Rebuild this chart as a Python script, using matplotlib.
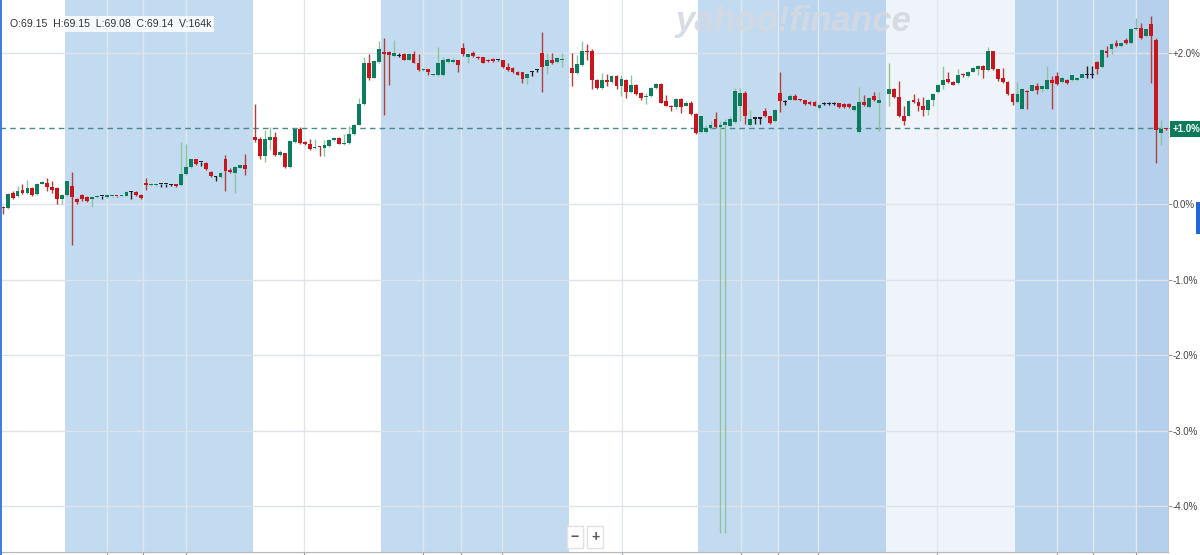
import numpy as np
import matplotlib
matplotlib.use("Agg")
import matplotlib.pyplot as plt
from matplotlib.patches import Rectangle

plt.rcParams["font.family"] = ["Liberation Sans", "DejaVu Sans"]

# candle values in % change, one per bar (None = no bar)
opens = [
    -0.04, -0.05, 0.15, 0.10, 0.18, 0.14, 0.21, 0.13, 0.27, 0.28,
    0.23, 0.21, 0.07, 0.12, 0.24, 0.06, 0.12, 0.09, 0.06, 0.09,
    0.10, 0.09, 0.10, 0.105, 0.11, 0.11, 0.16, 0.16, 0.12, 0.28,
    0.25, 0.25, 0.26, 0.26, 0.25, 0.26, 0.25, 0.39, 0.49, 0.59,
    0.55, 0.54, 0.42, 0.36, 0.36, 0.60, 0.45, 0.41, 0.48, 0.51,
    None, 0.89, 0.86, 0.63, 0.85, 0.88, 0.65, 0.67, 0.49, 0.82,
    0.99, 0.81, 0.80, 0.745, 0.76, 0.74, 0.77, 0.84, 0.87, 0.79,
    0.81, 0.92, 1.05, 1.32, 1.86, 1.67, 1.88, 2.01, 2.01, 1.96,
    1.96, 1.98, 1.91, 1.98, 1.87, 1.775, 1.78, 1.70, 1.70, 1.70,
    1.88, 1.88, 1.90, 2.06, 1.94, 2.00, 1.95, 1.94, 1.91, 1.92,
    1.90, 1.90, 1.81, 1.80, 1.75, 1.74, 1.66, 1.75, 1.77, 2.00,
    1.82, 1.91, 1.88, 1.90, None, 1.80, 1.73, 1.84, 2.03, 2.02,
    1.64, 1.53, 1.64, 1.61, 1.69, 1.56, 1.64, 1.48, 1.58, 1.47,
    1.41, 1.43, 1.53, 1.59, 1.36, 1.30, 1.28, 1.39, 1.30, 1.33,
    1.19, 0.95, 0.95, 1.00, 1.12, 1.02, 1.05, 1.03, 1.08, 1.30,
    1.47, 1.04, 1.13, 1.13, 1.23, 1.16, 1.10, 1.47, 1.35, 1.38,
    1.43, 1.375, 1.37, 1.35, 1.35, 1.27, 1.32, 1.32, 1.32, 1.33,
    1.32, 1.32, 1.24, 0.95, 1.35, 1.28, 1.43, 1.33, None, 1.45,
    1.52, 1.41, 1.16, 1.17, 1.38, 1.35, 1.29, 1.24, 1.38, 1.48,
    1.57, 1.65, 1.62, 1.60, 1.71, 1.69, 1.75, 1.79, 1.83, 1.77,
    2.02, 1.78, 1.67, 1.62, 1.46, 1.35, 1.26, 1.50, 1.50, 1.56,
    1.52, 1.52, 1.64, 1.69, 1.61, 1.64, 1.64, 1.64, 1.67, 1.70,
    1.70, 1.88, 1.81, 2.02, 2.05, 2.13, 2.09, 2.17, 2.13, 2.31,
    2.33, 2.22, 2.38, 2.17, 0.94, 1.00,
]
closes = [
    -0.05, 0.13, 0.08, 0.17, 0.14, 0.21, 0.12, 0.27, 0.29, 0.22,
    0.18, 0.07, 0.12, 0.30, 0.09, 0.02, 0.07, 0.04, 0.09, 0.11,
    0.10, 0.12, 0.105, 0.10, 0.115, 0.16, 0.16, 0.12, 0.08, 0.25,
    0.27, 0.26, 0.26, 0.26, 0.25, 0.24, 0.40, 0.49, 0.59, 0.53,
    0.55, 0.46, 0.37, 0.36, 0.41, 0.44, 0.42, 0.49, 0.51, 0.46,
    None, 0.85, 0.63, 0.86, 0.89, 0.65, 0.69, 0.49, 0.83, 0.99,
    0.81, 0.80, 0.73, 0.755, 0.75, 0.78, 0.85, 0.87, 0.80, 0.81,
    0.92, 1.05, 1.32, 1.87, 1.67, 1.89, 2.05, 1.98, 1.97, 2.00,
    1.96, 1.91, 1.99, 1.87, 1.77, 1.785, 1.74, 1.71, 1.87, 1.90,
    1.92, 1.91, 1.84, 1.98, 1.98, 1.96, 1.93, 1.87, 1.89, 1.89,
    1.90, 1.81, 1.77, 1.74, 1.71, 1.65, 1.72, 1.75, 1.77, 1.81,
    1.91, 1.86, 1.93, 1.92, None, 1.73, 1.85, 2.03, 2.01, 1.64,
    1.53, 1.64, 1.61, 1.69, 1.56, 1.65, 1.48, 1.57, 1.45, 1.40,
    1.42, 1.54, 1.59, 1.34, 1.30, 1.28, 1.39, 1.28, 1.33, 1.19,
    0.94, 1.16, 1.01, 1.05, 1.02, 1.05, 1.08, 1.13, 1.49, 1.47,
    1.16, 1.12, 1.13, 1.13, 1.16, 1.07, 1.24, 1.36, 1.35, 1.43,
    1.38, 1.37, 1.32, 1.32, 1.30, 1.31, 1.32, 1.32, 1.32, 1.28,
    1.28, 1.28, 1.29, 1.35, 1.31, 1.40, 1.37, 1.37, None, 1.52,
    1.41, 1.16, 1.10, 1.36, 1.35, 1.29, 1.24, 1.38, 1.46, 1.58,
    1.64, 1.61, 1.58, 1.71, 1.70, 1.75, 1.80, 1.83, 1.77, 2.02,
    1.78, 1.65, 1.61, 1.45, 1.35, 1.45, 1.52, 1.48, 1.57, 1.51,
    1.56, 1.64, 1.60, 1.59, 1.67, 1.60, 1.70, 1.67, 1.72, 1.70,
    1.70, 1.79, 2.04, 2.00, 2.12, 2.09, 2.13, 2.13, 2.32, 2.33,
    2.19, 2.31, 2.22, 0.98, 0.99, 0.99,
]
highs = [
    -0.03, 0.14, 0.17, 0.24, 0.26, 0.32, 0.22, 0.28, 0.30, 0.34,
    0.31, 0.22, 0.13, 0.31, 0.42, 0.08, 0.13, 0.10, 0.10, 0.12,
    0.11, 0.13, 0.11, 0.11, 0.12, 0.17, 0.17, 0.17, 0.13, 0.34,
    0.28, 0.27, 0.27, 0.27, 0.26, 0.27, 0.82, 0.80, 0.60, 0.60,
    0.56, 0.56, 0.43, 0.37, 0.42, 0.65, 0.47, 0.50, 0.52, 0.66,
    None, 1.32, 0.88, 0.98, 1.02, 0.95, 0.72, 0.68, 0.84, 1.00,
    1.02, 0.83, 0.86, 0.86, 0.77, 0.84, 0.86, 0.88, 0.89, 0.93,
    1.03, 1.06, 1.40, 1.95, 1.98, 1.90, 2.15, 2.20, 2.02, 2.17,
    2.00, 2.00, 2.00, 2.03, 1.99, 1.80, 1.79, 1.72, 2.07, 1.95,
    1.93, 1.93, 1.91, 2.13, 1.99, 2.03, 1.96, 1.95, 1.92, 1.93,
    1.91, 1.91, 1.86, 1.81, 1.76, 1.75, 1.73, 1.76, 1.79, 2.28,
    2.00, 2.00, 1.94, 2.00, None, 2.00, 1.97, 2.16, 2.12, 2.05,
    1.65, 1.73, 1.72, 1.70, 1.70, 1.70, 1.65, 1.70, 1.59, 1.48,
    1.47, 1.55, 1.60, 1.60, 1.44, 1.31, 1.40, 1.40, 1.36, 1.36,
    1.20, 1.17, 1.05, 1.10, 1.22, 1.10, 1.12, 1.17, 1.53, 1.53,
    1.49, 1.24, 1.14, 1.14, 1.27, 1.17, 1.25, 1.75, 1.38, 1.45,
    1.45, 1.39, 1.38, 1.36, 1.36, 1.32, 1.35, 1.35, 1.35, 1.34,
    1.33, 1.33, 1.30, 1.55, 1.44, 1.41, 1.48, 1.48, None, 1.87,
    1.53, 1.63, 1.30, 1.37, 1.45, 1.40, 1.42, 1.39, 1.47, 1.59,
    1.82, 1.74, 1.63, 1.79, 1.73, 1.76, 1.81, 1.84, 1.84, 2.07,
    2.03, 1.79, 1.80, 1.63, 1.47, 1.61, 1.53, 1.51, 1.58, 1.60,
    1.57, 1.82, 1.69, 1.74, 1.68, 1.65, 1.71, 1.68, 1.73, 1.82,
    1.82, 1.89, 2.05, 2.09, 2.13, 2.17, 2.14, 2.20, 2.33, 2.46,
    2.39, 2.32, 2.48, 2.20, 1.11, 1.01,
]
lows = [
    -0.13, -0.06, 0.07, 0.09, 0.13, 0.13, 0.11, 0.12, 0.26, 0.17,
    0.14, 0.00, 0.00, 0.11, -0.54, 0.00, 0.04, 0.03, -0.04, 0.08,
    0.06, 0.08, 0.09, 0.09, 0.10, 0.10, 0.07, 0.11, 0.07, 0.19,
    0.24, 0.24, 0.23, 0.23, 0.24, 0.23, 0.24, 0.38, 0.48, 0.52,
    0.50, 0.45, 0.36, 0.30, 0.35, 0.17, 0.41, 0.14, 0.47, 0.38,
    None, 0.82, 0.60, 0.55, 0.71, 0.64, 0.64, 0.48, 0.48, 0.81,
    0.79, 0.78, 0.72, 0.73, 0.63, 0.63, 0.76, 0.83, 0.79, 0.78,
    0.80, 0.91, 1.04, 1.31, 1.64, 1.66, 1.87, 1.18, 1.57, 1.95,
    1.95, 1.90, 1.90, 1.86, 1.76, 1.76, 1.70, 1.69, 1.69, 1.69,
    1.87, 1.87, 1.75, 1.96, 1.86, 1.95, 1.92, 1.86, 1.88, 1.88,
    1.89, 1.80, 1.76, 1.73, 1.70, 1.60, 1.59, 1.69, 1.75, 1.48,
    1.72, 1.85, 1.87, 1.81, None, 1.56, 1.72, 1.83, 1.91, 1.52,
    1.52, 1.52, 1.56, 1.60, 1.52, 1.43, 1.40, 1.47, 1.44, 1.37,
    1.32, 1.42, 1.52, 1.33, 1.29, 1.23, 1.26, 1.20, 1.29, 1.18,
    0.93, 0.94, 0.94, 0.99, 1.01, -4.35, -4.35, 1.02, 1.07, 1.10,
    1.06, 1.03, 1.06, 1.06, 1.15, 1.06, 1.09, 1.22, 1.31, 1.37,
    1.37, 1.36, 1.31, 1.31, 1.29, 1.26, 1.31, 1.31, 1.31, 1.27,
    1.27, 1.27, 1.23, 0.94, 1.30, 1.27, 1.36, 0.96, None, 1.30,
    1.40, 1.15, 1.05, 1.16, 1.34, 1.23, 1.17, 1.18, 1.30, 1.47,
    1.52, 1.60, 1.57, 1.59, 1.68, 1.68, 1.74, 1.70, 1.66, 1.76,
    1.77, 1.63, 1.60, 1.44, 1.31, 1.34, 1.25, 1.26, 1.49, 1.46,
    1.48, 1.51, 1.26, 1.58, 1.60, 1.59, 1.63, 1.63, 1.66, 1.67,
    1.67, 1.72, 1.80, 1.95, 1.99, 2.08, 2.08, 2.12, 2.12, 2.30,
    2.18, 2.21, 1.60, 0.54, 0.78, 0.98,
]

y_ticks = [2, 1, 0, -1, -2, -3, -4]
y_labels = ["+2.0%", "+1.0%", "0.0%", "-1.0%", "-2.0%", "-3.0%", "-4.0%"]
ref_level = 1.0
ohlc_text = "O:69.15  H:69.15  L:69.08  C:69.14  V:164k"

# session shading (bar index units) and vertical grid positions
bands = [(12.5, 50.5, "#c3dbf1"), (76.5, 114.5, "#c3dbf1"),
         (140.5, 156.6, "#c3dbf1"), (156.6, 178.5, "#bbd5ef"),
         (178.5, 204.5, "#eff4fa"), (204.5, 228.9, "#bbd5ef"),
         (228.9, 240, "#b4d0ec")]
grid_x = [21.1, 28.3, 37.0, 60.9, 85.0, 92.5, 100.9, 125.1,
          149.1, 156.6, 164.7, 188.7, 213.0, 220.3, 228.9]

UP, DOWN, FLAT = "#0b7d5e", "#c8161d", "#222222"
UP_WICK, DOWN_WICK = "#8cc49c", "#b0403c"

o = np.array(opens, dtype=float)
c = np.array(closes, dtype=float)
h = np.array(highs, dtype=float)
l = np.array(lows, dtype=float)
x = np.arange(len(o))
ok = ~np.isnan(o)

body_col = np.where(c > o, UP, np.where(c < o, DOWN, FLAT))
wick_col = np.where(c > o, UP_WICK, np.where(c < o, DOWN_WICK, FLAT))

fig = plt.figure(figsize=(12, 5.55), dpi=100)
ax = fig.add_axes([0, 3 / 555, 1168 / 1200, 552 / 555])
ax.set_xlim(-0.545, 235.41)
ax.set_ylim(-4.603, 2.698)

for x0, x1, col in bands:
    ax.axvspan(x0, x1, color=col, lw=0, zorder=0)

for gx in grid_x:
    ax.axvline(gx, color="#e3e7ec", lw=1, zorder=0.5)
for gy in y_ticks:
    if gy != ref_level:
        ax.axhline(gy, color="#dfe3e8", lw=1, zorder=0.5)
ax.axhline(ref_level, color="#4b8a8a", lw=1, ls=(0, (4, 3)), zorder=1)

ax.vlines(x[ok], l[ok], h[ok], colors=wick_col[ok], lw=1, zorder=2)
bottoms = np.minimum(o, c)
heights = np.maximum(np.abs(c - o), 0.014)
ax.bar(x[ok], heights[ok], bottom=bottoms[ok], width=0.78,
       color=body_col[ok], lw=0, zorder=3)

for side in ["top", "left"]:
    ax.spines[side].set_visible(False)
ax.spines["right"].set_color("#c9c9c9")
ax.spines["bottom"].set_color("#b5b5b5")

ax.yaxis.tick_right()
ax.set_yticks(y_ticks, y_labels)
ax.tick_params(axis="y", length=3, width=0.8, color="#9a9a9a", pad=0.5,
               labelsize=7.0, labelcolor="#444444")
ax.set_xticks(grid_x, [""] * len(grid_x))
ax.tick_params(axis="x", length=3, width=0.8, color="#9a9a9a")
for lbl in ax.get_yticklabels():
    if lbl.get_text() == "+1.0%":
        lbl.set_color("white")
        lbl.set_fontweight("bold")
        lbl.set_bbox(dict(facecolor="#0b7a5a", edgecolor="none",
                          boxstyle="square,pad=0.3"))

fig.text(793 / 1200, 1 - 21 / 555, "yahoo!finance", ha="center", va="center",
         fontsize=25, fontweight="bold", style="italic", color="#d4d9e1",
         alpha=0.9)
fig.text(10 / 1200, 1 - 24 / 555, ohlc_text, ha="left", va="center",
         fontsize=7.6, color="#333333",
         bbox=dict(facecolor="white", alpha=0.85, edgecolor="none", pad=2))
for bx, sym in [(575, "\u2212"), (595, "+")]:
    fig.text(bx / 1200, 1 - 537 / 555, sym, ha="center", va="center",
             fontsize=10, fontweight="bold", color="#555555",
             bbox=dict(facecolor="white", edgecolor="#e2e2e2",
                       boxstyle="square,pad=0.3"))

fig.add_artist(Rectangle((0, 0), 2 / 1200, 1, transform=fig.transFigure,
                         color="#3f7fd8", lw=0))
fig.add_artist(Rectangle((1196 / 1200, 1 - 234 / 555), 4 / 1200, 32 / 555,
                         transform=fig.transFigure, color="#2266d4", lw=0))

fig.savefig("out.png", dpi=100)
